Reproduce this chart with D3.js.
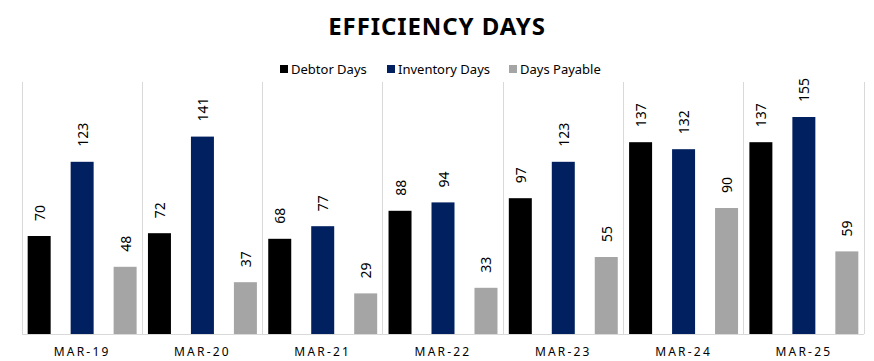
<!DOCTYPE html>
<html><head><meta charset="utf-8">
<script src="https://cdn.jsdelivr.net/npm/d3@7/dist/d3.min.js"></script>
<style>body{margin:0;background:#fff;} svg{display:block;font-family:"Noto Sans",sans-serif;}</style>
</head><body><svg id="c" width="874" height="361"></svg>
<script>
const categories = ["MAR-19","MAR-20","MAR-21","MAR-22","MAR-23","MAR-24","MAR-25"];
const seriesNames = ["Debtor Days","Inventory Days","Days Payable"];
const debtorDays = [70,72,68,88,97,137,137];
const inventoryDays = [123,141,77,94,123,132,155];
const daysPayable = [48,37,29,33,55,90,59];
const colors = ["#000000","#002060","#A5A5A5"];
const seriesValues = [debtorDays, inventoryDays, daysPayable];

const svg = d3.select("#c");
const m = {left:22, right:10, top:82, bottom:27};
const W = 874, H = 361;
const x = d3.scaleBand().domain(categories).range([m.left, W - m.right]).padding(0);
const xi = d3.scaleBand().domain(seriesNames).range([0, x.bandwidth()]).paddingInner(0.465).paddingOuter(0.132);
const y = d3.scaleLinear().domain([0,180]).range([H - m.bottom, m.top]);

// title
svg.append("text").attr("x", 437).attr("y", 35).attr("text-anchor","middle")
  .attr("font-size", 24).attr("font-weight", 700).attr("letter-spacing", 0.9).attr("fill","#000")
  .text("EFFICIENCY DAYS");

// vertical category gridlines
const bounds = categories.map(c => x(c)).concat([x(categories[categories.length-1]) + x.bandwidth()]);
svg.append("g").selectAll("line").data(bounds).join("line")
  .attr("x1", d => d).attr("x2", d => d).attr("y1", y(180)).attr("y2", y(0))
  .attr("stroke","#D9D9D9").attr("stroke-width",1).attr("shape-rendering","crispEdges");

// bars
const g = svg.append("g");
seriesNames.forEach((s, si) => {
  const vals = seriesValues[si];
  g.append("g").selectAll("rect").data(categories).join("rect")
    .attr("x", (c) => x(c) + xi(s))
    .attr("width", xi.bandwidth())
    .attr("y", (c, i) => y(vals[i]))
    .attr("height", (c, i) => y(0) - y(vals[i]))
    .attr("fill", colors[si]);
  g.append("g").selectAll("text").data(categories).join("text")
    .attr("transform", (c, i) => `translate(${x(c) + xi(s) + xi.bandwidth()/2},${y(vals[i]) - 15}) rotate(-90)`)
    .attr("text-anchor","start").attr("dominant-baseline","central")
    .attr("font-size", 14).attr("fill","#000")
    .text((c, i) => vals[i]);
});

// x axis
svg.append("line").attr("x1", m.left).attr("x2", W - m.right).attr("y1", y(0)).attr("y2", y(0))
  .attr("stroke","#D9D9D9").attr("shape-rendering","crispEdges");
const xAxis = d3.axisBottom(x).tickSize(0).tickPadding(0);
const ax = svg.append("g").attr("transform", `translate(0,${y(0)})`).call(xAxis);
ax.select(".domain").remove();
ax.selectAll("text").attr("font-size", 12).attr("letter-spacing", 2.2).attr("fill","#000")
  .attr("font-family","'Noto Sans',sans-serif").attr("dy", null).attr("y", 22);

// legend
const leg = svg.append("g");
const legX = [280, 387, 509];
seriesNames.forEach((s, i) => {
  leg.append("rect").attr("x", legX[i]).attr("y", 65).attr("width", 8).attr("height", 8).attr("fill", colors[i]);
  leg.append("text").attr("x", legX[i] + 11).attr("y", 69).attr("dominant-baseline","central")
    .attr("font-size", 13).attr("fill","#000").text(s);
});
</script></body></html>
